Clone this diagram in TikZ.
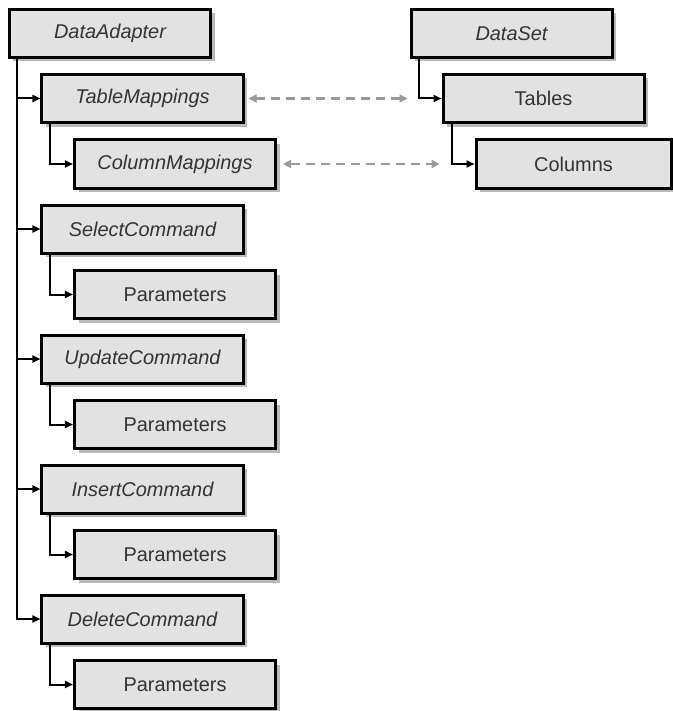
\documentclass[tikz,border=0pt]{standalone}
\usepackage{fontspec}
\setmainfont{Liberation Sans}
\usetikzlibrary{arrows.meta,shadows}
\definecolor{boxfill}{HTML}{E2E2E2}
\definecolor{linkgray}{HTML}{9A9A9A}
\tikzset{
  objbox/.style={draw=black, line width=3bp, fill=boxfill,
    minimum width=201bp, minimum height=48bp, inner sep=0pt,
    font=\fontsize{20}{24}\selectfont, text=black!80,
    drop shadow={shadow xshift=4bp, shadow yshift=-4bp, fill=black!30, opacity=0.9}},
  ibox/.style={objbox, font=\fontsize{20}{24}\selectfont\itshape},
  conn/.style={line width=2bp, -{Triangle[length=8bp,width=7bp]}},
  dashlink/.style={line width=2.6bp, draw=linkgray, dash pattern=on 9bp off 6bp,
    {Triangle[length=8bp,width=8bp]}-{Triangle[length=8bp,width=8bp]}}
}
\begin{document}
\begin{tikzpicture}[x=1bp,y=-1bp]
\useasboundingbox (0,0) rectangle (673,711);

% adapter side
\node[ibox] (da)  at (110,33.5)  {DataAdapter};
\node[ibox] (tm)  at (142.5,98.5) {TableMappings};
\node[ibox] (cm)  at (175,164)  {ColumnMappings};
\node[ibox] (sel) at (142.5,229) {SelectCommand};
\node[objbox] (sp) at (175,294.5) {Parameters};
\node[ibox] (upd) at (142.5,359) {UpdateCommand};
\node[objbox] (up) at (175,424.5) {Parameters};
\node[ibox] (ins) at (142.5,489) {InsertCommand};
\node[objbox] (ip) at (175,554.5) {Parameters};
\node[ibox] (del) at (142.5,619) {DeleteCommand};
\node[objbox] (dp) at (175,684.5) {Parameters};

% data set side
\node[ibox] (ds)  at (511.5,33.5) {DataSet};
\node[objbox] (tab) at (543.5,98.5) {Tables};
\node[objbox, minimum width=195bp] (col) at (573.5,164) {Columns};

% trunk and branch x positions
\coordinate (trunk) at (17,0);
\coordinate (sub)   at (50,0);
\coordinate (dsx)   at (419,0);
\coordinate (tabx)  at (452,0);

% main trunk
\draw[conn] (da.south -| trunk) |- (del.west);
\foreach \n in {tm,sel,upd,ins}
  \draw[conn] (\n.west -| trunk) -- (\n.west);

% child branches
\draw[conn] (tm.south -| sub)  |- (cm.west);
\draw[conn] (sel.south -| sub) |- (sp.west);
\draw[conn] (upd.south -| sub) |- (up.west);
\draw[conn] (ins.south -| sub) |- (ip.west);
\draw[conn] (del.south -| sub) |- (dp.west);

\draw[conn] (ds.south -| dsx)   |- (tab.west);
\draw[conn] (tab.south -| tabx) |- (col.west);

% mapping links
\draw[dashlink] ([xshift=4bp]tm.east) -- ([xshift=-34bp]tab.west);
\draw[dashlink] ([xshift=6bp]cm.east) -- ([xshift=-35bp]col.west);
\end{tikzpicture}
\end{document}
